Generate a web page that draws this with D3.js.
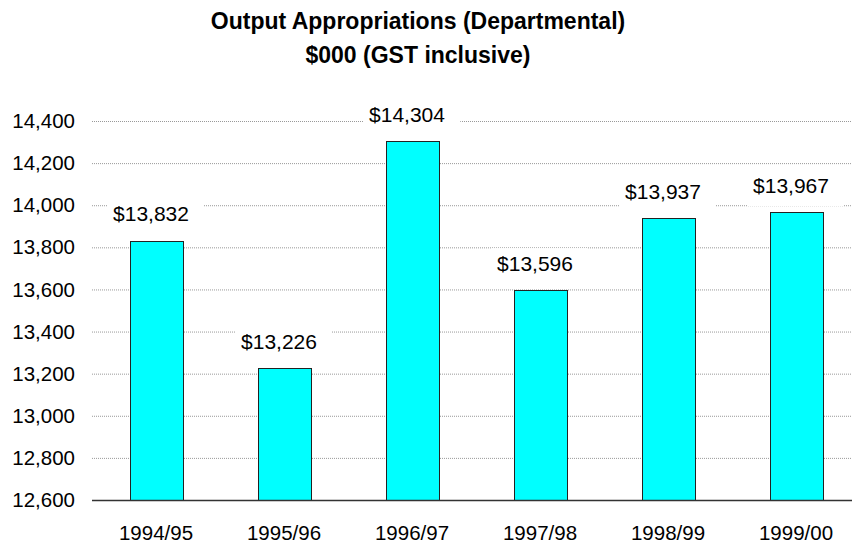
<!DOCTYPE html>
<meta charset="utf-8">
<style>
body { margin: 0; background: #fff; }
svg { font-family: "Liberation Sans", Arial, sans-serif; }
.grid line { stroke: #999; stroke-dasharray: 1,1; }
.bar { fill: #00ffff; stroke: #222; stroke-width: 1; }
</style>
<body>
<script src="https://d3js.org/d3.v7.min.js"></script>
<script>

var years = ["1994/95", "1995/96", "1996/97", "1997/98", "1998/99", "1999/00"];
var values = [13832, 13226, 14304, 13596, 13937, 13967];
var yTicks = [12600, 12800, 13000, 13200, 13400, 13600, 13800, 14000, 14200, 14400];

var w = 852, h = 547;

var svg = d3.select("body").append("svg")
    .attr("width", w)
    .attr("height", h);

// title
svg.append("text")
    .attr("x", 418).attr("y", 29)
    .attr("text-anchor", "middle")
    .attr("font-size", "23px").attr("font-weight", "bold")
    .text("Output Appropriations (Departmental)");
svg.append("text")
    .attr("x", 418).attr("y", 63)
    .attr("text-anchor", "middle")
    .attr("font-size", "23px").attr("font-weight", "bold")
    .text("$000 (GST inclusive)");

var x = d3.scaleBand()
    .domain(years)
    .range([92, 860])
    .paddingInner(0.586)
    .paddingOuter(0.293);

var y = d3.scaleLinear()
    .domain([12600, 14400])
    .range([500, 121]);

// gridlines
svg.append("g")
    .attr("class", "grid")
    .selectAll("line")
    .data(yTicks.slice(1))
    .enter().append("line")
    .attr("x1", 92).attr("x2", w)
    .attr("y1", function(d) { return y(d) + 0.5; })
    .attr("y2", function(d) { return y(d) + 0.5; });

// y tick labels
var yAxis = d3.axisLeft(y)
    .tickValues(yTicks)
    .tickSize(0)
    .tickPadding(0)
    .tickFormat(d3.format(","));

var gy = svg.append("g")
    .attr("transform", "translate(75,0)")
    .call(yAxis);
gy.select(".domain").remove();
gy.selectAll("text").attr("font-size", "20.5px").attr("fill", "#000")
    .attr("font-family", "Liberation Sans, Arial, sans-serif");

// value labels with white boxes (drawn before bars so bars sit on top)
var labels = svg.append("g").selectAll("g")
    .data(values)
    .enter().append("g");

labels.append("rect").attr("fill", "#fff");
labels.append("text")
    .attr("x", function(d, i) { return x(years[i]) + x.bandwidth() / 2 - 5; })
    .attr("y", function(d) { return y(d) - 27; })
    .attr("dy", "0.35em")
    .attr("text-anchor", "middle")
    .attr("font-size", "21px")
    .text(function(d) { return "$" + d3.format(",")(d); });

labels.each(function() {
    var g = d3.select(this);
    var b = g.select("text").node().getBBox();
    var cy = b.y + b.height / 2;
    g.select("rect")
        .attr("x", b.x - 6)
        .attr("width", b.width + 21)
        .attr("y", cy - 15)
        .attr("height", 36);
});

// bars
svg.append("g").selectAll("rect")
    .data(values)
    .enter().append("rect")
    .attr("class", "bar")
    .attr("x", function(d, i) { return Math.round(x(years[i])) + 0.5; })
    .attr("width", Math.round(x.bandwidth()))
    .attr("y", function(d) { return Math.round(y(d)) + 0.5; })
    .attr("height", function(d) { return Math.round(y(12600)) - Math.round(y(d)); });

// baseline
svg.append("line")
    .attr("x1", 92).attr("x2", w)
    .attr("y1", 500.5).attr("y2", 500.5)
    .attr("stroke", "#333").attr("stroke-width", 1.5);

// x labels
var xAxis = d3.axisBottom(x).tickSize(0).tickPadding(0);
var gx = svg.append("g")
    .attr("transform", "translate(0,533)")
    .call(xAxis);
gx.select(".domain").remove();
gx.selectAll("text").attr("font-size", "20.5px").attr("fill", "#000")
    .attr("dy", "0.35em")
    .attr("font-family", "Liberation Sans, Arial, sans-serif");

</script>
</body>
